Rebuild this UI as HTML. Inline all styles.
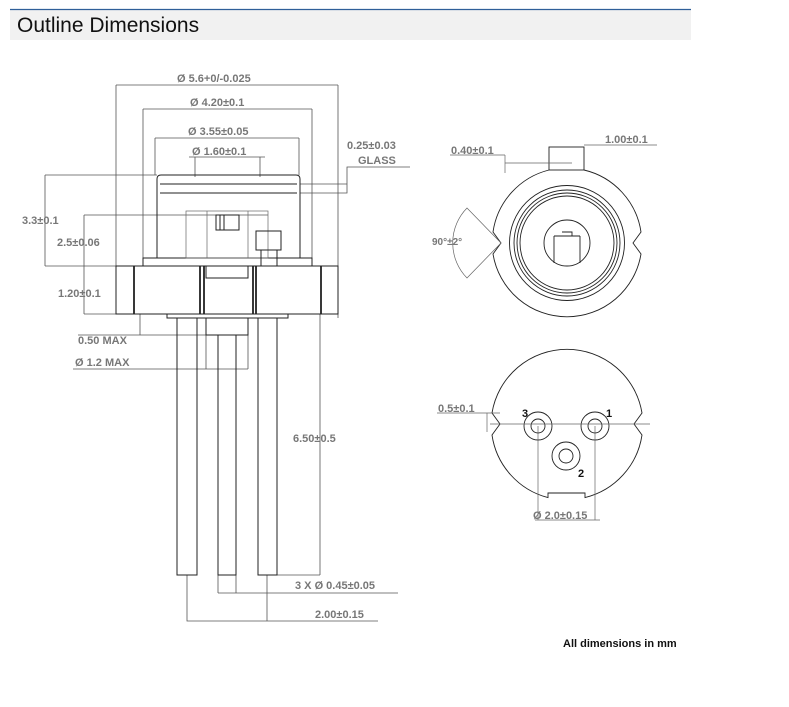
<!DOCTYPE html>
<html><head><meta charset="utf-8"><style>
body{margin:0;background:#fff;width:789px;height:707px;overflow:hidden;font-family:"Liberation Sans",sans-serif}
</style></head><body>
<svg width="789" height="707" viewBox="0 0 789 707" xmlns="http://www.w3.org/2000/svg" style="position:absolute;left:0;top:0">
<rect x="10" y="10" width="681" height="30" fill="#f1f1f1"/>
<line x1="10" y1="9.5" x2="691" y2="9.5" stroke="#2f5f99" stroke-width="1.2"/>
<text x="17" y="32" font-size="21" fill="#111" font-family="Liberation Sans, sans-serif">Outline Dimensions</text>

<g stroke="#555" stroke-width="0.8" fill="none">
<path d="M116 85H338M116 85V266M338 85V318"/>
<path d="M143 109H312M143 109V258M312 109V258"/>
<path d="M155 138H299M155 138V175M299 138V175"/>
<path d="M189 157H265M195 157V177M260 157V177"/>
<path d="M45 175H157M45 175V266M45 266H116"/>
<path d="M84 215H268M84 215V314M84 314H116"/>
<path d="M300 184H347V193H300M347 184V167H410"/>
<path d="M140 314V335M78 335H248M73 369H248M206 335V369M248 335V369"/>
<path d="M320 314V575M277 575H320"/>
<path d="M218 593H398M236 575V593M218 575V593"/>
<path d="M187 575V621H378M267 575V621"/>
</g>
<g stroke="#222" stroke-width="1" fill="none">
<path d="M157 258V179Q157 175 161 175H296Q300 175 300 179V258"/>
<path d="M160 184H297M160 193H297"/>
<rect x="143" y="258" width="169" height="8"/>
<rect x="186" y="211" width="82" height="47" stroke="#666" stroke-width="0.7"/>
<path d="M207 211V258M248 211V258" stroke="#666" stroke-width="0.7"/>
<rect x="216" y="215" width="23" height="15"/>
<path d="M220 215V230M224 215V230"/>
<rect x="256" y="231" width="25" height="19"/>
<path d="M261 250V266M277 250V266"/>
<rect x="116" y="266" width="222" height="48"/>
<path d="M134 266V314M200 266V314M204 266V314M253 266V314M256 266V314M321 266V314" stroke-width="1.8"/>
<rect x="206" y="266" width="42" height="12"/>
<rect x="167" y="314" width="121" height="4"/>
<rect x="206" y="318" width="42" height="17"/>
<rect x="177" y="318" width="20" height="257"/>
<rect x="218" y="335" width="18" height="240"/>
<rect x="258" y="318" width="19" height="257"/>
</g>

<!-- top view -->
<g stroke="#222" stroke-width="0.9" fill="none">
<path d="M549 170A75 75 0 0 0 493 232L501 243L493 254A75 75 0 0 0 641 254L633 243L641 232A75 75 0 0 0 584 170"/>
<rect x="549" y="147" width="35" height="23"/>
<circle cx="567" cy="243" r="57.5"/>
<circle cx="567" cy="243" r="53"/>
<circle cx="567" cy="243" r="50"/>
<circle cx="567" cy="243" r="47"/>
<circle cx="567" cy="243" r="23"/>
<path d="M554 236H580M554 236V263M580 236V263M562 232H572V236"/>
<path d="M501 243L467 208A50 50 0 0 0 467 278Z" stroke="#666" stroke-width="0.7"/>
<path d="M505 155V173M505 163H572M450 155H505M584 145H657" stroke="#666" stroke-width="0.7"/>
</g>
<!-- bottom view -->
<g stroke="#222" stroke-width="0.9" fill="none">
<path d="M548 497.6A76 76 0 0 1 492 435L500 424L492 413A76 76 0 0 1 642 413L634 424L642 435A76 76 0 0 1 585 497.6V493H548Z"/>
<circle cx="538" cy="426" r="14"/><circle cx="538" cy="426" r="7"/>
<circle cx="595" cy="426" r="14"/><circle cx="595" cy="426" r="7"/>
<circle cx="566" cy="456" r="14"/><circle cx="566" cy="456" r="7"/>
<path d="M490 424H650M538 426V520M595 426V520M535 520H600M437 413H487V432M487 413H500" stroke="#666" stroke-width="0.7"/>
</g>

<g font-family="Liberation Sans, sans-serif" font-size="11" font-weight="bold" fill="#777">
<text x="177" y="82">Ø 5.6+0/-0.025</text>
<text x="190" y="106">Ø 4.20±0.1</text>
<text x="188" y="135">Ø 3.55±0.05</text>
<text x="192" y="155">Ø 1.60±0.1</text>
<text x="347" y="149">0.25±0.03</text>
<text x="358" y="164">GLASS</text>
<text x="22" y="224">3.3±0.1</text>
<text x="57" y="246">2.5±0.06</text>
<text x="58" y="297">1.20±0.1</text>
<text x="78" y="344">0.50 MAX</text>
<text x="75" y="366">Ø 1.2 MAX</text>
<text x="293" y="442">6.50±0.5</text>
<text x="295" y="589">3 X  Ø 0.45±0.05</text>
<text x="315" y="618">2.00±0.15</text>
<text x="451" y="154">0.40±0.1</text>
<text x="605" y="143">1.00±0.1</text>
<text x="432" y="245" font-size="10">90°±2°</text>
<text x="438" y="412">0.5±0.1</text>
<text x="533" y="519">Ø 2.0±0.15</text>
</g>
<g font-family="Liberation Sans, sans-serif" font-size="11" font-weight="bold" fill="#111">
<text x="522" y="417">3</text>
<text x="606" y="417">1</text>
<text x="578" y="477">2</text>
<text x="563" y="647">All dimensions in mm</text>
</g>
</svg>
</body></html>
